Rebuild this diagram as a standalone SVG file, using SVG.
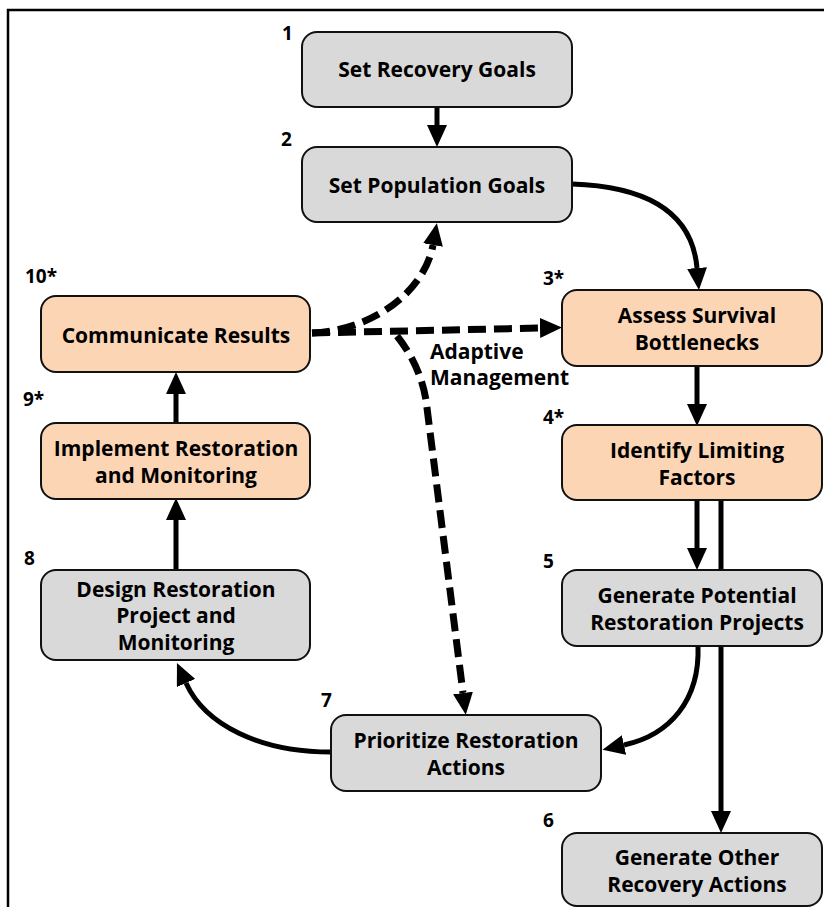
<svg xmlns="http://www.w3.org/2000/svg" width="824" height="907" viewBox="0 0 824 907">
<defs>
<marker id="ah" viewBox="0 0 22 20" refX="0" refY="10" markerWidth="22" markerHeight="20" markerUnits="userSpaceOnUse" orient="auto">
<path d="M0,0 L22,10 L0,20 z" fill="#000"/>
</marker>
</defs>
<style>
.box{stroke:#111;stroke-width:2}
.g{fill:#d9d9d9}
.o{fill:#fcd5b4}
.t{font-family:"Open Sans","Liberation Sans",sans-serif;font-weight:bold;font-size:21px;fill:#000;text-anchor:middle}
.n{font-family:"Open Sans","Liberation Sans",sans-serif;font-weight:bold;font-size:19px;fill:#000}
.s{fill:none;stroke:#000;stroke-width:5}
.d{fill:none;stroke:#000;stroke-width:7;stroke-dasharray:18 8}
.lbl{font-family:"Open Sans","Liberation Sans",sans-serif;font-weight:bold;font-size:21px;fill:#000}
</style>
<rect width="824" height="907" fill="#fff"/>
<path d="M8,907 V10 H824" fill="none" stroke="#000" stroke-width="2.5"/>
<g id="connectors">
<path class="s" d="M437,107 V125" marker-end="url(#ah)"/>
<path class="s" d="M572,184 Q690,188 697,268" marker-end="url(#ah)"/>
<path class="s" d="M697,366 V404" marker-end="url(#ah)"/>
<path class="s" d="M697,500 V548" marker-end="url(#ah)"/>
<path class="s" d="M721,500 V811" marker-end="url(#ah)"/>
<path class="s" d="M698,646 C700,700 670,735 624,745" marker-end="url(#ah)"/>
<path class="s" d="M331,752 C260,752 205,725 186,683" marker-end="url(#ah)"/>
<path class="s" d="M176,570 V520" marker-end="url(#ah)"/>
<path class="s" d="M176,423 V394" marker-end="url(#ah)"/>
<path class="d" d="M312,333 C375,330 425,290 433,245" marker-end="url(#ah)"/>
<path class="d" d="M312,333 L540,328" marker-end="url(#ah)"/>
<path class="d" d="M397,336 Q420,365 426,400 L463,693" marker-end="url(#ah)"/>
<text class="lbl" x="430" y="359">Adaptive</text>
<text class="lbl" x="430" y="385">Management</text>
</g>
<g id="n1">
<rect class="box g" x="302" y="32" width="270" height="75" rx="15"/>
<text class="t" x="437" y="77">Set Recovery Goals</text>
<text class="n" x="282" y="40">1</text>
</g>
<g id="n2">
<rect class="box g" x="302" y="147" width="270" height="75" rx="15"/>
<text class="t" x="437" y="193">Set Population Goals</text>
<text class="n" x="281" y="146">2</text>
</g>
<g id="n3">
<rect class="box o" x="562" y="290" width="260" height="76" rx="15"/>
<text class="t" x="697" y="323">Assess Survival</text>
<text class="t" x="697" y="350">Bottlenecks</text>
<text class="n" x="543" y="285">3*</text>
</g>
<g id="n4">
<rect class="box o" x="562" y="425" width="260" height="75" rx="15"/>
<text class="t" x="697" y="458">Identify Limiting</text>
<text class="t" x="697" y="485">Factors</text>
<text class="n" x="543" y="424">4*</text>
</g>
<g id="n5">
<rect class="box g" x="562" y="570" width="260" height="76" rx="15"/>
<text class="t" x="697" y="603">Generate Potential</text>
<text class="t" x="697" y="630">Restoration Projects</text>
<text class="n" x="543" y="568">5</text>
</g>
<g id="n6">
<rect class="box g" x="562" y="833" width="260" height="73" rx="15"/>
<text class="t" x="697" y="865">Generate Other</text>
<text class="t" x="697" y="892">Recovery Actions</text>
<text class="n" x="543" y="827">6</text>
</g>
<g id="n7">
<rect class="box g" x="331" y="715" width="270" height="76" rx="15"/>
<text class="t" x="466" y="748">Prioritize Restoration</text>
<text class="t" x="466" y="775">Actions</text>
<text class="n" x="321" y="707">7</text>
</g>
<g id="n8">
<rect class="box g" x="41" y="570" width="269" height="90" rx="15"/>
<text class="t" x="176" y="597">Design Restoration</text>
<text class="t" x="176" y="623">Project and</text>
<text class="t" x="176" y="650">Monitoring</text>
<text class="n" x="24" y="565">8</text>
</g>
<g id="n9">
<rect class="box o" x="41" y="423" width="269" height="76" rx="15"/>
<text class="t" x="176" y="456">Implement Restoration</text>
<text class="t" x="176" y="483">and Monitoring</text>
<text class="n" x="23" y="406">9*</text>
</g>
<g id="n10">
<rect class="box o" x="41" y="296" width="269" height="76" rx="15"/>
<text class="t" x="176" y="343">Communicate Results</text>
<text class="n" x="25" y="283">10*</text>
</g>
</svg>
